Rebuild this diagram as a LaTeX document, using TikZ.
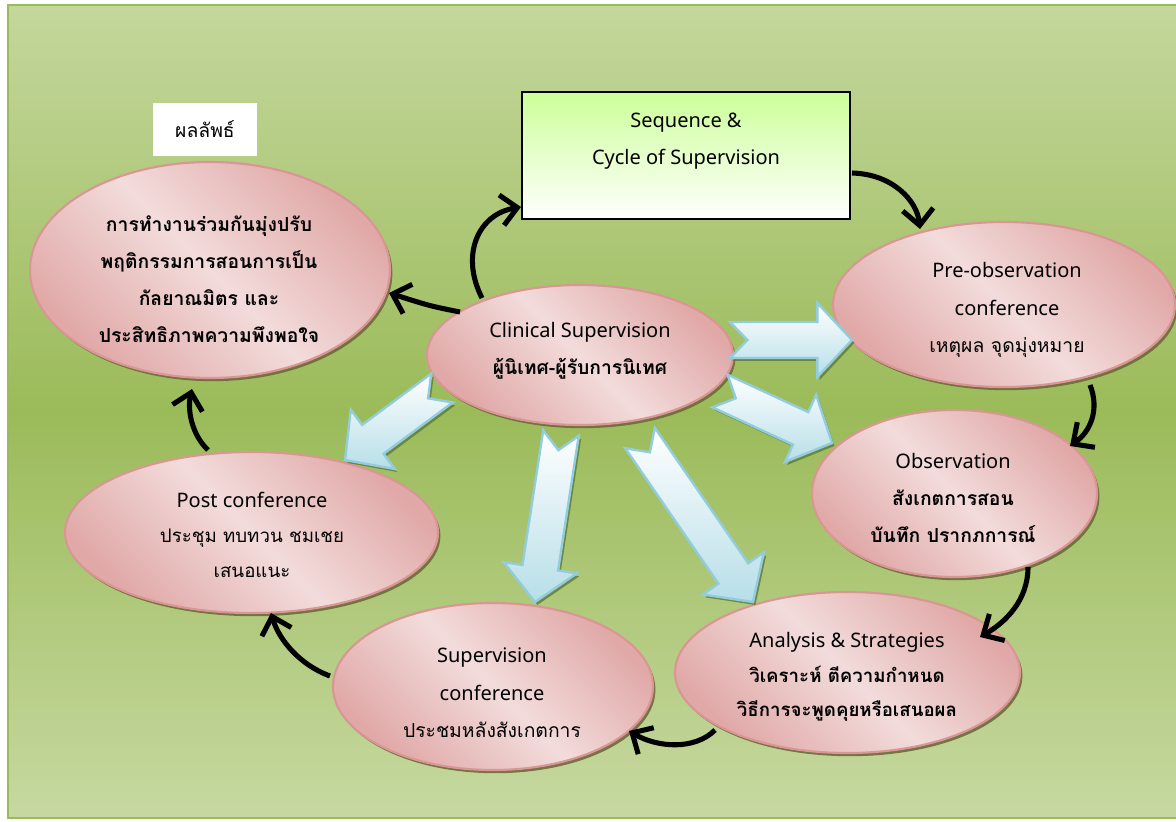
\documentclass[tikz,border=0pt]{standalone}
\usepackage{fontspec}
\setmainfont[Script=Thai]{Loma}
\newfontfamily\lat{Noto Sans}
\usetikzlibrary{shapes.geometric,arrows.meta,calc,shadows}
\definecolor{bgtop}{HTML}{C4D79D}
\definecolor{bgmid}{HTML}{9BBB59}
\definecolor{pinkL}{HTML}{F2DCDB}
\definecolor{pinkD}{HTML}{E0A8A7}
\definecolor{pinkB}{HTML}{D99694}
\definecolor{blueB}{HTML}{93CDDD}
\definecolor{blueF}{HTML}{B7DEE8}
\definecolor{limeT}{HTML}{CCFF99}
\definecolor{shad}{HTML}{6E6A3C}
\definecolor{gshad}{HTML}{5E7A32}
\newcommand\blockarr[2]{%
  \coordinate (ba-c) at ($(#2)!26pt!(#1)$);
  \filldraw[barrow] ($(#1)!13.5pt!90:(#2)$) -- ($(ba-c)!13.5pt!90:(#2)$) --
    ($(ba-c)!27.75pt!90:(#2)$) -- (#2) -- ($(ba-c)!27.75pt!-90:(#2)$) --
    ($(ba-c)!13.5pt!-90:(#2)$) -- ($(#1)!13.5pt!-90:(#2)$) --
    ($(#1)!13pt!(#2)$) -- cycle;}
\newcommand\la[1]{{\lat\fontsize{15pt}{28pt}\selectfont #1}}
\begin{document}
\begin{tikzpicture}[x=0.75pt,y=-0.75pt,
  oval/.style={ellipse, draw=pinkB, line width=1.6pt, inner sep=0pt,
    top color=pinkD, bottom color=pinkD, middle color=pinkL, shading angle=-45,
    drop shadow={fill=shad, opacity=0.9, shadow xshift=1.8pt, shadow yshift=-2.4pt}},
  barrow/.style={draw=blueB, line width=1.8pt, line join=miter, top color=white, bottom color=blueF,
    drop shadow={fill=gshad, opacity=0.8, shadow xshift=1.8pt, shadow yshift=-2.2pt}},
  flow/.style={line width=3.8pt, -{Straight Barb[length=12pt,width=23pt]}},
  txt/.style={align=center, font=\fontsize{14.5pt}{28pt}\selectfont},
  txts/.style={align=center, font=\fontsize{14pt}{26pt}\selectfont}]
\useasboundingbox (0,0) rectangle (1176,821);
\fill[white] (0,0) rectangle (1176,821);
\draw[line width=2.2pt, draw=bgmid, top color=bgtop, bottom color=bgtop!96!white, middle color=bgmid] (8,5) rectangle (1190,818);

% nodes
\node[fill=white, minimum width=78pt, minimum height=39.75pt] (lab) at (205,129.5) {};
\node[txt] at (lab) {ผลลัพธ์};
\node[draw=black, line width=1.1pt, top color=limeT, bottom color=white, minimum width=246pt, minimum height=95.25pt,
  drop shadow={fill=gray, opacity=0.5, shadow xshift=0.8pt, shadow yshift=-1pt}] (seq) at (686,155.5) {};
\node[txt] at (686,141) {\la{Sequence \&}\\\la{Cycle of Supervision}};

\node[oval, minimum width=270pt, minimum height=162pt] (out) at (210,270) {};
\node[oval, minimum width=229.5pt, minimum height=105pt] (clin) at (580,355) {};
\node[oval, minimum width=256.5pt, minimum height=123.75pt] (pre) at (1004,304.5) {};
\node[oval, minimum width=213.75pt, minimum height=125.25pt] (obs) at (954.5,493.5) {};
\node[oval, minimum width=279.75pt, minimum height=120.75pt] (post) at (251.5,532.5) {};
\node[oval, minimum width=240pt, minimum height=125.25pt] (supv) at (493,686.5) {};
\node[oval, minimum width=258.75pt, minimum height=120.75pt] (anal) at (847.5,672.5) {};

\node[txt, font=\fontsize{14.5pt}{27.75pt}\selectfont\bfseries] at (209,279) {การทำงานร่วมกันมุ่งปรับ\\พฤติกรรมการสอนการเป็น\\กัลยาณมิตร และ\\ประสิทธิภาพความพึงพอใจ};
\node[txt] at (580,351) {\la{Clinical Supervision}\\\textbf{ผู้นิเทศ-ผู้รับการนิเทศ}};
\node[txt] at (1007,310) {\la{Pre-observation}\\\la{conference}\\เหตุผล จุดมุ่งหมาย};
\node[txt] at (953,498) {\la{Observation}\\\textbf{สังเกตการสอน}\\\textbf{บันทึก ปรากภการณ์}};
\node[txts] at (252,535) {\la{Post conference}\\ประชุม ทบทวน ชมเชย\\เสนอแนะ};
\node[txt] at (492,693) {\la{Supervision}\\\la{conference}\\ประชมหลังสังเกตการ};
\node[txts] at (847,677) {\la{Analysis \& Strategies}\\\textbf{วิเคราะห์ ตีความกำหนด}\\\textbf{วิธีการจะพูดคุยหรือเสนอผล}};

% block arrows
\coordinate (r1a) at (730,340); \coordinate (r1b) at (852,340);
\coordinate (r2a) at (720,391); \coordinate (r2b) at (832,443);
\coordinate (dla) at (442,388); \coordinate (dlb) at (345,460);
\coordinate (dda) at (561,433); \coordinate (ddb) at (535,602);
\coordinate (dra) at (640,438); \coordinate (drb) at (753,602);
\blockarr{r1a}{r1b}
\blockarr{r2a}{r2b}
\blockarr{dla}{dlb}
\blockarr{dda}{ddb}
\blockarr{dra}{drb}

% black flow arrows
\coordinate (c1s) at (482,298); \coordinate (c1e) at (521,207);
\coordinate (c2s) at (460,312); \coordinate (c2e) at (389,293);
\coordinate (c3s) at (852,173); \coordinate (c3e) at (920,229);
\coordinate (c4s) at (1090,385); \coordinate (c4e) at (1070,446);
\coordinate (c5s) at (1028,567); \coordinate (c5e) at (980,637);
\coordinate (c6s) at (715,730); \coordinate (c6e) at (629,731);
\coordinate (c7s) at (330,676); \coordinate (c7e) at (271,613);
\coordinate (c8s) at (208,450); \coordinate (c8e) at (192,389);
\draw[flow] (c1s) .. controls (460,255) and (478,214) .. (c1e);
\draw[flow] (c2s) .. controls (430,306) .. (c2e);
\draw[flow] (c3s) .. controls (892,174) and (917,200) .. (c3e);
\draw[flow] (c4s) .. controls (1100,410) and (1090,432) .. (c4e);
\draw[flow] (c5s) .. controls (1028,600) and (1006,622) .. (c5e);
\draw[flow] (c6s) .. controls (695,750) and (658,748) .. (c6e);
\draw[flow] (c7s) .. controls (300,665) and (279,640) .. (c7e);
\draw[flow] (c8s) .. controls (192,435) and (187,410) .. (c8e);
\end{tikzpicture}
\end{document}
